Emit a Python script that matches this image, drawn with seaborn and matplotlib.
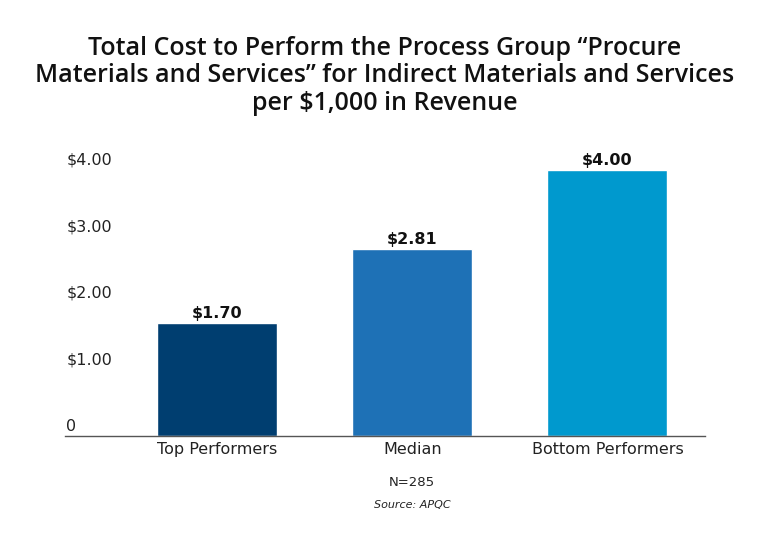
import matplotlib
matplotlib.use("Agg")
import matplotlib.pyplot as plt
import matplotlib.transforms as mtransforms
import seaborn as sns
import pandas as pd

# chart data
categories = ["Top Performers", "Median", "Bottom Performers"]
costs = [1.70, 2.81, 4.00]
value_labels = ["$1.70", "$2.81", "$4.00"]
y_ticks = [0, 1, 2, 3, 4]
y_tick_labels = ["0", "$1.00", "$2.00", "$3.00", "$4.00"]
bar_colors = ["#003E70", "#1E71B6", "#0099CE"]

sns.set_style("white")
plt.rcParams["font.family"] = ["DejaVu Sans"]

df = pd.DataFrame({"category": categories, "cost": costs})

fig = plt.figure(figsize=(7.7, 5.44), dpi=100)
ax = fig.add_axes([65 / 770, 1 - 436 / 544, 640 / 770, 276 / 544])

sns.barplot(data=df, x="category", y="cost", hue="category", palette=bar_colors,
            width=0.615, saturation=1, legend=False, ax=ax)

ax.set_xlim(-0.78, 2.5)
ax.set_ylim(0, 4.15)
ax.set_xlabel("")
ax.set_ylabel("")
ax.set_yticks([])
ax.tick_params(axis="x", length=0, pad=4, labelsize=11.5, labelcolor="#222222")
for s in ["top", "right", "left"]:
    ax.spines[s].set_visible(False)
ax.spines["bottom"].set_color("#555555")
ax.spines["bottom"].set_linewidth(1)

# y labels sit just above their tick values
trans = mtransforms.blended_transform_factory(ax.transAxes, ax.transData)
for v, lab in zip(y_ticks, y_tick_labels):
    ax.text(0.002, v + 0.03, lab, transform=trans, ha="left", va="bottom",
            fontsize=11.5, color="#222222")

for i, (v, lab) in enumerate(zip(costs, value_labels)):
    ax.text(i, v + 0.03, lab, ha="center", va="bottom", fontsize=11.5,
            fontweight="bold", color="#111111")

fig.text(0.5, 1 - 76 / 544,
         "Total Cost to Perform the Process Group \u201cProcure\n"
         "Materials and Services\u201d for Indirect Materials and Services\n"
         "per $1,000 in Revenue",
         ha="center", va="center", fontsize=18, fontweight="semibold",
         linespacing=1.12, color="#111111", family=["Open Sans", "DejaVu Sans"])

fig.text(412 / 770, 1 - 483 / 544, "N=285", ha="center", va="center",
         fontsize=9.5, color="#222222")
fig.text(412 / 770, 1 - 505 / 544, "Source: APQC", ha="center", va="center",
         fontsize=8, style="italic", color="#222222")

fig.savefig("out.png", dpi=100)
